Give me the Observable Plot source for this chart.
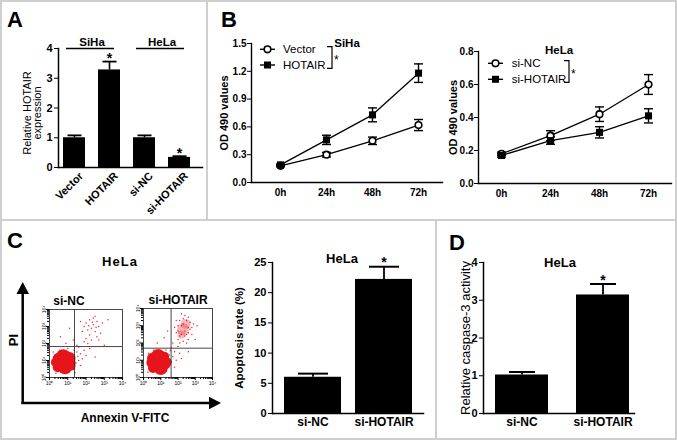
<!DOCTYPE html>
<html><head><meta charset="utf-8">
<script src="https://cdn.jsdelivr.net/npm/d3@7"></script>
<script src="https://cdn.jsdelivr.net/npm/@observablehq/plot@0.6"></script>
<style>
body{margin:0;background:#fff;}
#fig{position:relative;width:677px;height:440px;overflow:hidden;background:#fff;font-family:Arial,"Liberation Sans",Helvetica,sans-serif;}
#fig svg{overflow:visible;}
</style></head><body><div id="fig"></div>
<script>
// ---------- Panel A data ----------
const aCategories = ["Vector", "HOTAIR", "si-NC", "si-HOTAIR"];
const aValues = [1.0, 3.28, 1.0, 0.34];
const aErrors = [0.08, 0.28, 0.08, 0.04];
const aStars = [false, true, false, true];
const aGroupNames = ["SiHa", "HeLa"];
const aGroupFirst = ["Vector", "si-NC"];
const aGroupLast = ["HOTAIR", "si-HOTAIR"];
const aYTicks = [0, 1, 2, 3, 4];
const aYLabel = "Relative HOTAIR\nexpression";

// ---------- Panel B data ----------
const timeLabels = ["0h", "24h", "48h", "72h"];
const sihaSeries = ["Vector", "HOTAIR"];
const sihaVector = [0.18, 0.30, 0.45, 0.62];
const sihaVectorErr = [0.01, 0.025, 0.04, 0.06];
const sihaHotair = [0.19, 0.46, 0.73, 1.18];
const sihaHotairErr = [0.01, 0.05, 0.075, 0.10];
const sihaYTicks = [0, 0.3, 0.6, 0.9, 1.2, 1.5];
const helaSeries = ["si-NC", "si-HOTAIR"];
const helaNC = [0.18, 0.29, 0.42, 0.60];
const helaNCErr = [0.01, 0.03, 0.044, 0.06];
const helaSi = [0.17, 0.26, 0.31, 0.41];
const helaSiErr = [0.01, 0.022, 0.034, 0.043];
const helaYTicks = [0, 0.2, 0.4, 0.6, 0.8];
const odLabel = "OD 490 values";

// ---------- Panel C / D data ----------
const hCategories = ["si-NC", "si-HOTAIR"];
const hStars = [false, true];
const apoptosis = [6.0, 22.2];
const apoptosisErr = [0.6, 2.1];
const apoptosisYTicks = [0, 5, 10, 15, 20, 25];
const caspase = [1.02, 3.14];
const caspaseErr = [0.08, 0.29];
const caspaseYTicks = [0, 1, 2, 3, 4];

// flow cytometry (log10 decades of Annexin V-FITC, PI)
const flowDecades = [0, 1, 2, 3, 4];
const flowTickText = ["10\u2070", "10\u00b9", "10\u00b2", "10\u00b3", "10\u2074"];
const ncGate = [1.37, 1.82];
const ncBlobs = [[0.8,1.0,10],[0.6,0.8,8],[1.0,0.85,8],[0.75,1.25,7],[0.5,1.1,6],[1.1,1.15,6],[0.85,0.6,7],[0.45,0.6,5],[1.2,0.65,4],[0.3,0.9,4]];
const ncEvents = [[2.0,3.2],[2.2,3.4],[2.4,3.1],[2.6,3.3],[2.3,2.9],[2.5,2.7],[2.7,3.0],[2.1,2.8],[1.9,3.0],[2.8,2.6],[2.4,3.5],[2.2,2.5],[2.6,2.4],[1.8,2.7],[2.9,3.2],[2.0,2.3],[2.5,3.6],[1.7,3.3],[2.3,2.2],[2.7,2.2],[1.6,1.8],[1.7,1.4],[1.9,1.6],[1.8,1.1],[2.0,1.3],[1.6,1.0],[2.2,1.7],[1.5,1.5],[1.7,0.7],[2.1,2.0],[1.9,2.1],[1.3,2.2],[0.9,2.0],[0.6,2.4],[1.1,2.9],[3.2,3.4],[3.0,1.9],[2.5,1.2],[1.4,0.3],[2.35,3.25],[2.15,3.05],[2.55,2.95],[1.5,1.9],[1.45,0.85],[1.55,1.25],[0.2,1.5],[1.0,1.7],[0.35,0.25],[1.35,1.6],[0.55,1.6]];
const hoGate = [1.6, 1.7];
const hoBlobs = [[0.95,0.95,10],[0.7,0.8,8],[1.2,0.85,7],[0.85,1.25,7],[1.2,1.2,5],[0.55,1.1,6],[1.0,0.55,7],[0.55,0.55,5],[1.4,0.9,4],[0.4,0.85,4]];
const hoDense = [[2.3,2.8,6],[2.45,3.1,5],[2.2,2.5,4]];
const hoEvents = [[2.0,3.0],[2.1,3.3],[2.3,3.4],[2.5,3.3],[2.7,3.2],[2.8,2.9],[2.6,2.6],[2.4,2.4],[2.2,2.5],[1.9,2.6],[1.8,2.9],[2.0,2.2],[2.6,2.2],[2.8,2.5],[2.9,3.1],[2.4,3.6],[2.2,3.7],[2.6,3.5],[1.9,3.3],[2.1,2.0],[2.5,2.0],[2.3,2.1],[2.7,2.8],[2.2,3.0],[2.4,2.7],[2.0,2.7],[2.6,2.9],[2.3,3.1],[2.5,2.5],[2.1,2.4],[1.6,1.7],[1.8,1.5],[1.7,1.2],[2.0,1.8],[1.9,1.0],[1.6,0.9],[2.1,1.4],[1.7,2.0],[1.5,1.3],[2.2,1.1],[1.8,0.6],[1.2,2.3],[0.8,2.0],[3.1,3.0],[3.0,2.2],[2.6,1.5],[1.4,2.7],[1.55,1.55],[0.3,1.4],[1.3,1.6],[0.6,1.6],[0.25,0.3]];

// ---------- helpers ----------
const FONT = 'Arial, "Liberation Sans", Helvetica, sans-serif';
const fig = document.getElementById("fig");
const baseStyle = {fontFamily: FONT, fontWeight: "bold", color: "#000", background: "transparent", overflow: "visible"};
const intFmt = d3.format("d");
function place(el, left, top) {
  el.style.position = "absolute"; el.style.left = left + "px"; el.style.top = top + "px";
  fig.appendChild(el);
}
const capSymbol = {draw(ctx, size) { const w = Math.sqrt(size / Math.PI); ctx.moveTo(-w, 0); ctx.lineTo(w, 0); }};

// ---------- Panel A ----------
const aData = aCategories.map((c, i) => ({cat: c, v: aValues[i], top: aValues[i] + aErrors[i], star: aStars[i]}));
const aGroupData = aGroupNames.map((g, i) => ({label: g, a: aGroupFirst[i], b: aGroupLast[i]}));
const aYMax = aYTicks[aYTicks.length - 1];
const plotA = Plot.plot({
  width: 207, height: 216, marginLeft: 58, marginRight: 5, marginTop: 48, marginBottom: 49,
  style: baseStyle,
  x: {type: "band", domain: aCategories, paddingInner: 0.38, paddingOuter: 0.1, insetRight: 8, axis: null},
  y: {domain: [0, aYMax]},
  marks: [
    Plot.barY(aData, {x: "cat", y: "v", fill: "#000"}),
    Plot.ruleX(aData, {x: "cat", y1: "v", y2: "top", stroke: "#000", strokeWidth: 1.6}),
    Plot.dot(aData, {x: "cat", y: "top", symbol: capSymbol, r: 7, stroke: "#000", strokeWidth: 1.8, fill: "none"}),
    Plot.text(aData.filter(d => d.star), {x: "cat", y: "top", text: () => "*", dy: -3, fontSize: 14}),
    Plot.ruleY(aGroupData, {y: () => aYMax, x1: "a", x2: "b", insetLeft: 3, insetRight: 6, stroke: "#000", strokeWidth: 1.5}),
    Plot.text(aGroupData, {x: "a", y: () => aYMax, text: "label", dx: 17.5, dy: -6, fontSize: 11.5}),
    Plot.axisY({ticks: aYTicks, tickFormat: intFmt, tickSize: 4, tickPadding: 2, fontSize: 11, label: null}),
    Plot.frame({anchor: "left", strokeWidth: 1.5}),
    Plot.frame({anchor: "bottom", strokeWidth: 1.5}),
    Plot.text([aYLabel], {frameAnchor: "left", textAnchor: "middle", dx: -26, dy: 5, rotate: -90, fontSize: 11, fontWeight: "normal", lineHeight: 0.9})
  ]
});
place(plotA, 0, 0);

// ---------- Panel B ----------
function linePanel(o) {
  const rows = [];
  o.series.forEach((s, k) => timeLabels.forEach((t, i) => rows.push({s, k, t, v: o.values[k][i], lo: o.values[k][i] - o.errors[k][i], hi: o.values[k][i] + o.errors[k][i]})));
  const yMax = o.yTicks[o.yTicks.length - 1];
  return Plot.plot({
    width: o.width, height: o.height, marginLeft: o.ml, marginRight: o.mr, marginTop: o.mt, marginBottom: o.mb,
    style: baseStyle,
    x: {type: "point", domain: timeLabels, padding: o.padding, insetLeft: o.insetLeft},
    y: {domain: [0, yMax]},
    marks: [
      Plot.line(rows, {x: "t", y: "v", z: "s", stroke: "#000", strokeWidth: 1.3}),
      Plot.ruleX(rows, {x: "t", y1: "lo", y2: "hi", stroke: "#000", strokeWidth: 1.4}),
      Plot.dot(rows, {x: "t", y: "hi", symbol: capSymbol, r: 4.5, stroke: "#000", strokeWidth: 1.4, fill: "none"}),
      Plot.dot(rows, {x: "t", y: "lo", symbol: capSymbol, r: 4.5, stroke: "#000", strokeWidth: 1.4, fill: "none"}),
      Plot.dot(rows.filter(d => d.k === 0), {x: "t", y: "v", symbol: "circle", r: 3.3, fill: "#fff", stroke: "#000", strokeWidth: 1.6}),
      Plot.dot(rows.filter(d => d.k === 1), {x: "t", y: "v", symbol: "square", r: 4, fill: "#000"}),
      Plot.axisY({ticks: o.yTicks, tickFormat: d3.format(".1f"), tickSize: 4, tickPadding: 1, fontSize: 10, label: null}),
      Plot.axisX({tickSize: 0, tickPadding: 6, fontSize: 10, label: null}),
      Plot.frame({anchor: "left", strokeWidth: 1.4}),
      Plot.frame({anchor: "bottom", strokeWidth: 1.4}),
      Plot.text([o.title], {frameAnchor: "top", dx: o.titleDx, dy: o.titleDy, fontSize: 11.5}),
      Plot.text([odLabel], {frameAnchor: "left", textAnchor: "middle", dx: o.yLabelDx, rotate: -90, fontSize: 11})
    ]
  });
}
place(linePanel({series: sihaSeries, values: [sihaVector, sihaHotair], errors: [sihaVectorErr, sihaHotairErr], yTicks: sihaYTicks,
  width: 242, height: 216, ml: 43, mr: 8, mt: 43, mb: 34, padding: 0.5, insetLeft: 4,
  title: "SiHa", titleDx: 0, titleDy: -5, yLabelDx: -27}), 208, 0);
place(linePanel({series: helaSeries, values: [helaNC, helaSi], errors: [helaNCErr, helaSiErr], yTicks: helaYTicks,
  width: 227, height: 216, ml: 28, mr: 6, mt: 51, mb: 33, padding: 0.44, insetLeft: 0,
  title: "HeLa", titleDx: -16, titleDy: -6, yLabelDx: -25}), 450, 0);

// ---------- Bars C / D ----------
function barPanel(o) {
  const data = hCategories.map((c, i) => ({cat: c, v: o.vals[i], top: o.vals[i] + o.errs[i], star: hStars[i]}));
  const yMax = o.yTicks[o.yTicks.length - 1];
  return Plot.plot({
    width: o.width, height: o.height, marginLeft: o.ml, marginRight: o.mr, marginTop: o.mt, marginBottom: o.mb,
    style: baseStyle,
    x: {type: "band", domain: hCategories, paddingInner: o.pi, paddingOuter: o.po, align: o.align},
    y: {domain: [0, yMax]},
    marks: [
      Plot.barY(data, {x: "cat", y: "v", fill: "#000"}),
      Plot.ruleX(data, {x: "cat", y1: "v", y2: "top", stroke: "#000", strokeWidth: 1.8}),
      Plot.dot(data, {x: "cat", y: "top", symbol: capSymbol, r: o.capR, stroke: "#000", strokeWidth: 2, fill: "none"}),
      Plot.text(data.filter(d => d.star), {x: "cat", y: "top", text: () => "*", dy: -4, fontSize: 14}),
      Plot.axisY({ticks: o.yTicks, tickFormat: intFmt, tickSize: 4, tickPadding: 2, fontSize: 11, label: null}),
      Plot.axisX({tickSize: 0, tickPadding: 4, fontSize: 12, label: null}),
      Plot.frame({anchor: "left", strokeWidth: 1.5}),
      Plot.frame({anchor: "bottom", strokeWidth: 1.5}),
      Plot.text([o.title], {frameAnchor: "top", dx: o.titleDx, dy: o.titleDy, fontSize: 13}),
      Plot.text([o.yLabel], {frameAnchor: "left", textAnchor: "middle", dx: o.yLabelDx, rotate: -90, fontSize: o.yLabelSize, fontWeight: o.yLabelWeight})
    ]
  });
}
place(barPanel({vals: apoptosis, errs: apoptosisErr, yTicks: apoptosisYTicks, width: 206, height: 216, ml: 42, mr: 13, mt: 38, mb: 27,
  pi: 0.2, po: 0.15, align: 0.5, capR: 15, title: "HeLa", titleDx: -6, titleDy: -9,
  yLabel: "Apoptosis rate (%)", yLabelDx: -33, yLabelSize: 11.5, yLabelWeight: "bold"}), 230, 224);
place(barPanel({vals: caspase, errs: caspaseErr, yTicks: caspaseYTicks, width: 241, height: 216, ml: 47, mr: 43, mt: 38, mb: 27,
  pi: 0.35, po: 0.1, align: 0.7, capR: 13, title: "HeLa", titleDx: 1, titleDy: -5,
  yLabel: "Relative caspase-3 activity", yLabelDx: -18, yLabelSize: 13, yLabelWeight: "normal"}), 436, 224);

// ---------- Flow plots ----------
function flowPanel(o) {
  const minor = d3.range(0, 4).flatMap(d => d3.range(2, 10).map(k => d + Math.log10(k)));
  const xy = {x: d => d[0], y: d => d[1]};
  return Plot.plot({
    width: o.width, height: o.height, marginLeft: o.ml, marginRight: o.mr, marginTop: o.mt, marginBottom: o.mb,
    style: baseStyle,
    x: {domain: [0, 4]}, y: {domain: [0, 4]}, r: {type: "identity"},
    marks: [
      Plot.dot(o.dense || [], {...xy, r: d => d[2], fill: "#e8141b", fillOpacity: 0.3}),
      Plot.dot(o.events, {...xy, r: 0.75, fill: "#e8141b", fillOpacity: 0.9}),
      Plot.dot(o.blobs, {...xy, r: d => d[2], fill: "#e8141b"}),
      Plot.ruleX([o.gate[0]], {stroke: "#333", strokeWidth: 0.9}),
      Plot.ruleY([o.gate[1]], {stroke: "#333", strokeWidth: 0.9}),
      Plot.frame({stroke: "#333", strokeWidth: 0.9}),
      Plot.axisX({ticks: minor, tickSize: 2, tickFormat: () => "", label: null}),
      Plot.axisY({ticks: minor, tickSize: 2, tickFormat: () => "", label: null}),
      Plot.axisX({ticks: flowDecades, tickSize: 3, tickPadding: 1, tickFormat: d => flowTickText[d], fontSize: 5, fontWeight: "normal", label: null}),
      Plot.axisY({ticks: flowDecades, tickSize: 3, tickPadding: 1, tickRotate: -90, tickFormat: d => flowTickText[d], fontSize: 5, fontWeight: "normal", label: null}),
      Plot.text([o.title], {frameAnchor: "top", dx: o.titleDx, dy: -13, fontSize: 12})
    ]
  });
}
place(flowPanel({width: 100, height: 90, ml: 19, mr: 8, mt: 9, mb: 13, gate: ncGate, blobs: ncBlobs, events: ncEvents, title: "si-NC", titleDx: -17}), 30, 300);
place(flowPanel({width: 96, height: 90, ml: 19, mr: 8, mt: 8, mb: 13, gate: hoGate, blobs: hoBlobs, dense: hoDense, events: hoEvents, title: "si-HOTAIR", titleDx: 0}), 124, 300);

// ---------- Overlay: borders, letters, legends, arrows ----------
const ov = d3.create("svg").attr("width", 677).attr("height", 440)
  .style("pointer-events", "none").attr("font-family", FONT);
ov.append("rect").attr("x", 1).attr("y", 1).attr("width", 675).attr("height", 438)
  .attr("fill", "none").attr("stroke", "#cfcfcf").attr("stroke-width", 2);
ov.append("line").attr("x1", 207).attr("x2", 207).attr("y1", 0).attr("y2", 220).attr("stroke", "#cfcfcf").attr("stroke-width", 2);
ov.append("line").attr("x1", 0).attr("x2", 677).attr("y1", 220).attr("y2", 220).attr("stroke", "#cfcfcf").attr("stroke-width", 2);
ov.append("line").attr("x1", 436).attr("x2", 436).attr("y1", 220).attr("y2", 440).attr("stroke", "#cfcfcf").attr("stroke-width", 2);
const letters = [["A", 7, 27], ["B", 221, 27], ["C", 7, 248], ["D", 449, 250]];
letters.forEach(([t, x, y]) => ov.append("text").attr("x", x).attr("y", y).attr("font-size", 22).attr("font-weight", "bold").text(t));

// Panel A rotated category labels, positioned with Plot's own x / y scales
const sxA = plotA.scale("x"), syA = plotA.scale("y");
const axisYA = syA.apply(0);
aCategories.forEach(c => {
  const cx = sxA.apply(c) + sxA.bandwidth / 2;
  ov.append("text")
    .attr("transform", `translate(${cx + 7},${axisYA + 7}) rotate(-45)`)
    .attr("text-anchor", "end").attr("dy", "0.35em")
    .attr("font-size", 11).attr("font-weight", "bold").text(c);
});

// legends for panel B
function legend(series, x0, ys, textX, bx, by1, by2) {
  series.forEach((s, k) => {
    const g = ov.append("g");
    g.append("line").attr("x1", x0).attr("x2", x0 + 15).attr("y1", ys[k]).attr("y2", ys[k]).attr("stroke", "#000").attr("stroke-width", 1.4);
    if (k === 0) g.append("circle").attr("cx", x0 + 7.5).attr("cy", ys[k]).attr("r", 3.3).attr("fill", "#fff").attr("stroke", "#000").attr("stroke-width", 1.6);
    else g.append("rect").attr("x", x0 + 4).attr("y", ys[k] - 3.5).attr("width", 7).attr("height", 7).attr("fill", "#000");
    g.append("text").attr("x", textX).attr("y", ys[k]).attr("dy", "0.35em").attr("font-size", 11.5).text(s);
  });
  ov.append("path").attr("d", `M${bx - 5},${by1}H${bx}V${by2}H${bx - 5}`).attr("fill", "none").attr("stroke", "#000").attr("stroke-width", 1.2);
  ov.append("text").attr("x", bx + 2).attr("y", (by1 + by2) / 2 + 6).attr("font-size", 12).text("*");
}
legend(sihaSeries, 260, [49.3, 65], 283, 332, 46.7, 68.3);
legend(helaSeries, 488, [63.3, 79.3], 511.7, 569, 60.7, 82.3);

// panel C annotations
ov.append("text").attr("x", 120).attr("y", 266).attr("text-anchor", "middle").attr("font-size", 13).attr("font-weight", "bold").attr("letter-spacing", 1).text("HeLa");
ov.append("line").attr("x1", 22.7).attr("x2", 22.7).attr("y1", 404).attr("y2", 293).attr("stroke", "#000").attr("stroke-width", 2.5);
ov.append("path").attr("d", "M16.5,294L29,294L22.7,282Z").attr("fill", "#000");
ov.append("line").attr("x1", 21.5).attr("x2", 210).attr("y1", 403).attr("y2", 403).attr("stroke", "#000").attr("stroke-width", 2.5);
ov.append("path").attr("d", "M209,396.7L209,409.3L221,403Z").attr("fill", "#000");
ov.append("text").attr("transform", "translate(13,340) rotate(-90)").attr("text-anchor", "middle").attr("dy", "0.35em").attr("font-size", 13).attr("font-weight", "bold").text("PI");
ov.append("text").attr("x", 125).attr("y", 422).attr("text-anchor", "middle").attr("font-size", 12).attr("font-weight", "bold").text("Annexin V-FITC");
place(ov.node(), 0, 0);
</script>
</body></html>
